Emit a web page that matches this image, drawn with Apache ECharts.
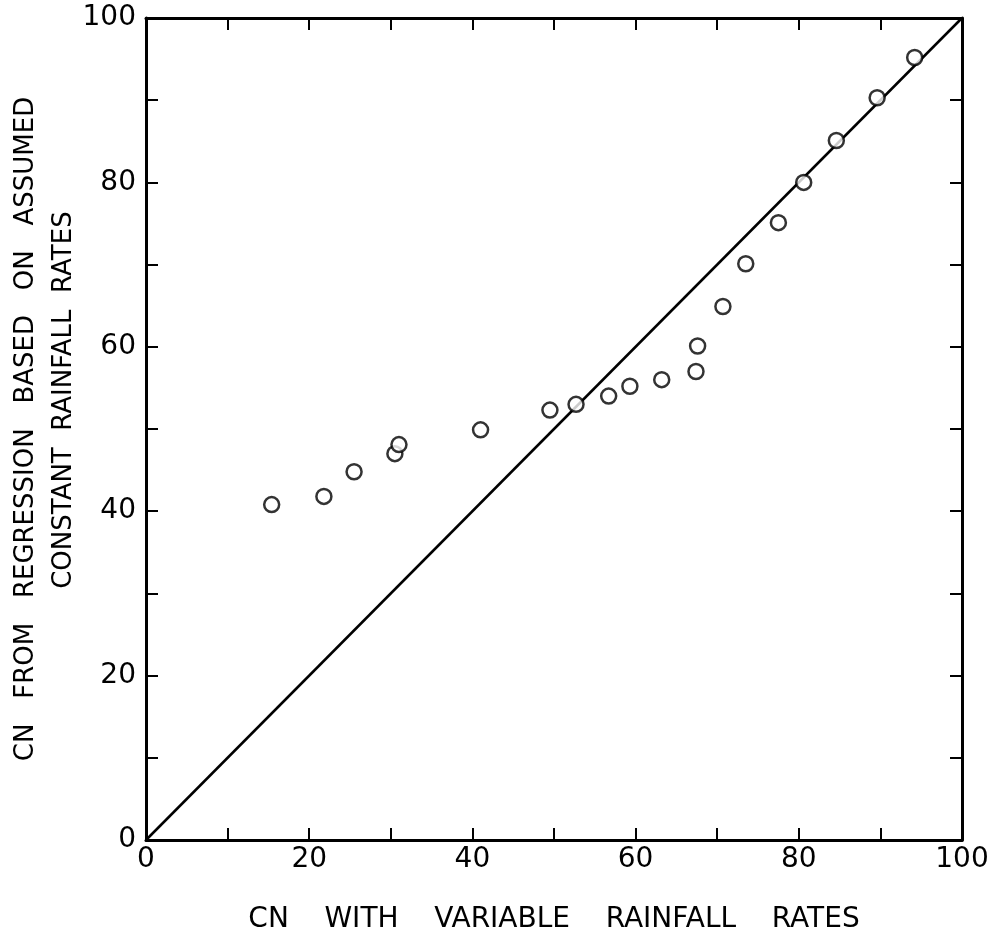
<!DOCTYPE html>
<html>
<head>
<meta charset="utf-8">
<script src="https://cdn.jsdelivr.net/npm/echarts@6/dist/echarts.min.js"></script>
<style>
  html, body { margin: 0; padding: 0; background: #fff; }
  #chart { width: 1005px; height: 941px; }
</style>
</head>
<body>
<div id="chart"></div>
<script>
// CN with variable rainfall rates (x) vs CN from regression (y)
const cnVariable = [15.4, 21.8, 25.5, 30.5, 31.0, 41.0, 49.5, 52.7, 56.7, 59.3, 63.2, 67.4, 67.6, 70.7, 73.5, 77.5, 80.6, 84.6, 89.6, 94.2];
const cnRegression = [40.8, 41.8, 44.8, 47.0, 48.1, 49.9, 52.3, 53.0, 54.0, 55.2, 56.0, 57.0, 60.1, 64.9, 70.1, 75.1, 80.0, 85.1, 90.3, 95.2];
const equalityLine = [[0, 0], [100, 100]];
const tickLabels = [0, 20, 40, 60, 80, 100];

const font = 'DejaVu Sans, Liberation Sans, sans-serif';
const tickFmt = (v) => tickLabels.includes(v) ? String(v) : '';
// wide word gaps like the typed original
const spaced = (s, n) => s.split(' ').join(' '.repeat(n));

const boxAxis = (extra) => Object.assign({
  type: 'value', min: 0, max: 100, interval: 10,
  axisLine: { show: true, onZero: false, lineStyle: { color: '#000', width: 3 } },
  axisTick: { show: true, inside: true, length: 12, lineStyle: { color: '#000', width: 2 } },
  splitLine: { show: false },
  axisLabel: { show: false }
}, extra);

const chart = echarts.init(document.getElementById('chart'));
chart.setOption({
  animation: false,
  backgroundColor: '#fff',
  grid: { left: 146, top: 18, width: 816, height: 822, containLabel: false, outerBoundsMode: 'none' },
  xAxis: [
    boxAxis({
      position: 'bottom',
      name: spaced('CN WITH VARIABLE RAINFALL RATES', 4),
      nameLocation: 'middle', nameGap: 66, nameMoveOverlap: false,
      nameTextStyle: { color: '#000', fontSize: 28, fontFamily: font },
      axisLabel: { show: true, formatter: tickFmt, color: '#000', fontSize: 28, fontFamily: font, margin: 6 }
    }),
    boxAxis({ position: 'top' })
  ],
  yAxis: [
    boxAxis({
      position: 'left',
      name: spaced('CN FROM REGRESSION BASED ON ASSUMED', 3) + '\n' + ' '.repeat(7) + spaced('CONSTANT RAINFALL RATES', 2),
      nameLocation: 'middle', nameGap: 63, nameRotate: 90, nameMoveOverlap: false,
      nameTextStyle: { color: '#000', fontSize: 26, fontFamily: font, lineHeight: 38 },
      axisLabel: { show: true, formatter: tickFmt, color: '#000', fontSize: 28, fontFamily: font, margin: 10 }
    }),
    boxAxis({ position: 'right' })
  ],
  series: [
    {
      type: 'line',
      data: equalityLine,
      symbol: 'none',
      lineStyle: { color: '#000', width: 2.5 },
      z: 2
    },
    {
      type: 'scatter',
      data: cnVariable.map((x, i) => [x, cnRegression[i]]),
      symbol: 'circle',
      symbolSize: 15,
      itemStyle: { color: '#fff', borderColor: '#000', borderWidth: 2.5 },
      z: 3
    }
  ]
});
</script>
</body>
</html>
